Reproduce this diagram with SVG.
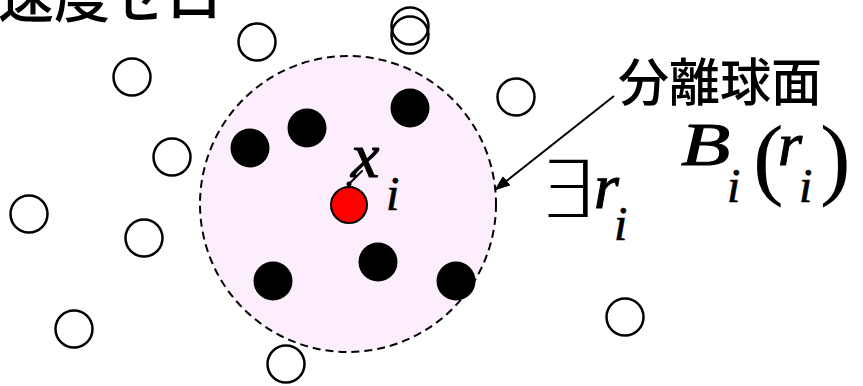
<svg xmlns="http://www.w3.org/2000/svg" width="863" height="386" viewBox="0 0 863 386">
<style>
.open{fill:#fff;stroke:#000;stroke-width:2.5}
.solid{fill:#000;stroke:none}
.math{font-style:italic;fill:#000;stroke:#000;stroke-width:1.1}
.sub{font-style:italic;fill:#000;stroke:#000;stroke-width:0.7}
.up{fill:#000}
.jp{font-family:"Noto Sans CJK JP","Noto Sans CJK SC",sans-serif;font-weight:500;fill:#000}
</style>
<defs>
<marker id="ah" markerWidth="16" markerHeight="12" refX="15" refY="6" orient="auto" markerUnits="userSpaceOnUse">
<path d="M0,0 L16,6 L0,12 Z" fill="#000"/>
</marker>
</defs>
<rect width="863" height="386" fill="#fff"/>
<text class="jp" x="-2" y="17" font-size="56">速度ゼロ</text>
<g id="sphere">
<circle cx="348" cy="204" r="148" fill="#FDEEFD" stroke="#000" stroke-width="2" stroke-dasharray="8,5"/>
</g>
<g id="open-points">
<circle class="open" cx="257" cy="42" r="18.5"/>
<circle class="open" cx="132" cy="77" r="18.5"/>
<circle class="open" cx="410" cy="26" r="18.5"/>
<circle cx="410" cy="35" r="18.5" fill="none" stroke="#000" stroke-width="2.5"/>
<circle class="open" cx="516" cy="97" r="18.5"/>
<circle class="open" cx="172" cy="157" r="18.5"/>
<circle class="open" cx="29" cy="214" r="18.5"/>
<circle class="open" cx="144" cy="238" r="18.5"/>
<circle class="open" cx="74" cy="329" r="18.5"/>
<circle class="open" cx="286" cy="364" r="18.5"/>
<circle class="open" cx="625" cy="317" r="18.5"/>
</g>
<g id="inner-points">
<circle class="solid" cx="250" cy="148" r="19.5"/>
<circle class="solid" cx="307" cy="128" r="19.5"/>
<circle class="solid" cx="410" cy="108" r="19.5"/>
<circle class="solid" cx="273" cy="281" r="19.5"/>
<circle class="solid" cx="378" cy="262" r="19.5"/>
<circle class="solid" cx="456" cy="281" r="19.5"/>
</g>
<g id="xi">
<circle cx="349" cy="205" r="18" fill="#f00" stroke="#000" stroke-width="2"/>
<text class="math" font-family="Liberation Serif, serif" x="351" y="177" font-size="64">x</text>
<text class="sub" font-family="Liberation Serif, serif" x="386" y="210" font-size="48">i</text>
</g>
<g id="connectors">
<line x1="349" y1="184" x2="362" y2="171" stroke="#000" stroke-width="2" stroke-linecap="round"/>
<circle cx="349" cy="184" r="2.5" fill="#000"/>
<line x1="614" y1="96" x2="495" y2="190" stroke="#000" stroke-width="2" marker-end="url(#ah)"/>
</g>
<g id="label">
<text class="jp" x="618" y="101" font-size="51">分離球面</text>
</g>
<g id="exists">
<text class="up" font-family="DejaVu Sans, sans-serif" font-weight="200" transform="translate(537,217) scale(1.55,1.31)" font-size="60">∃</text>
<text class="math" font-family="Liberation Serif, serif" x="594" y="208" font-size="64">r</text>
<text class="sub" font-family="Liberation Serif, serif" x="614" y="240" font-size="48">i</text>
</g>
<g id="ball">
<text class="math" font-family="Liberation Serif, serif" transform="translate(681,165) scale(1.3,1)" font-size="62">B</text>
<text class="sub" font-family="Liberation Serif, serif" x="727" y="202" font-size="48">i</text>
<text class="up" font-family="Liberation Serif, serif" x="753" y="188" font-size="92">(</text>
<text class="math" font-family="Liberation Serif, serif" x="778" y="165" font-size="62">r</text>
<text class="sub" font-family="Liberation Serif, serif" x="799" y="202" font-size="48">i</text>
<text class="up" font-family="Liberation Serif, serif" x="820" y="188" font-size="92">)</text>
</g>
</svg>
